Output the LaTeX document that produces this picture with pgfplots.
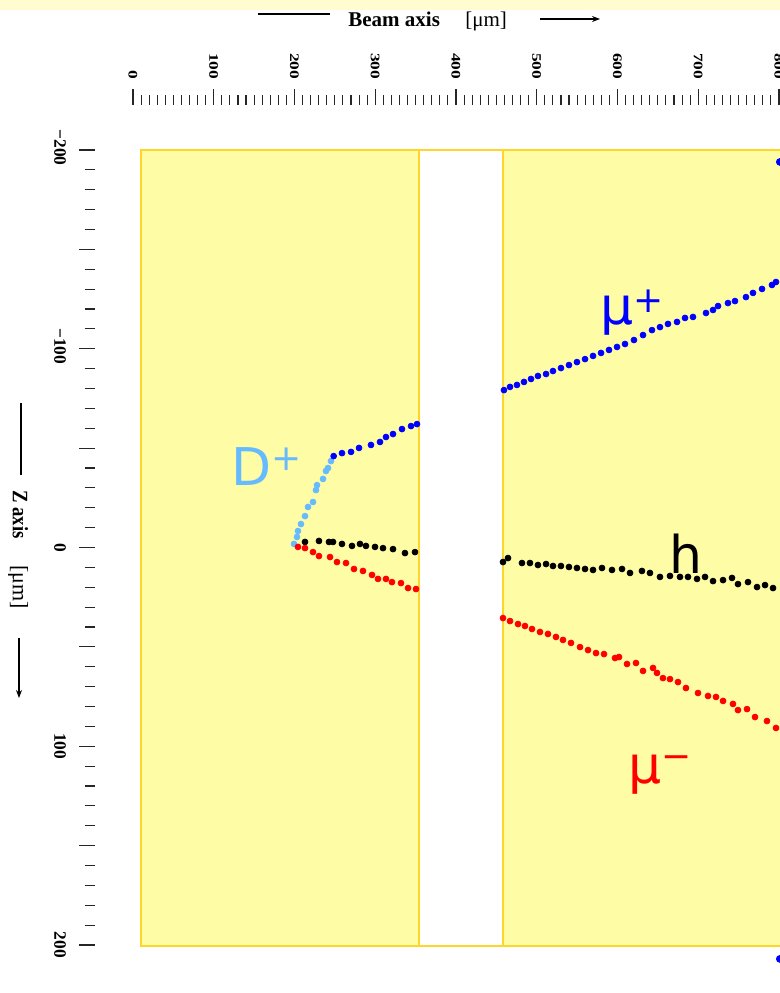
\documentclass[border=0pt]{standalone}
\usepackage{pgfplots}
\pgfplotsset{compat=1.18}
\usepackage{fontspec}
\setmainfont{Liberation Serif}
\newfontfamily\labelfont{DejaVu Sans}
\usetikzlibrary{arrows.meta}

\definecolor{boxfill}{RGB}{255,252,166}
\definecolor{boxedge}{RGB}{255,214,40}
\definecolor{bandfill}{RGB}{255,253,208}
\definecolor{dplus}{RGB}{102,187,255}
\definecolor{muplus}{RGB}{0,0,255}
\definecolor{muminus}{RGB}{255,0,0}

\begin{document}
\begin{tikzpicture}
% page frame (1 unit = 0.5pt, origin of the beam/Z frame at the vertex scale origin)
\path[use as bounding box, clip] (-66.5pt,-222.75pt) rectangle (323.5pt,273.75pt);
\begin{axis}[
  at={(0,0)}, anchor=origin,
  scale only axis,
  x=0.40375pt, y=0.99375pt, y dir=reverse,
  xmin=-47.06, xmax=801.2, ymin=-222.64, ymax=224.15,
  axis line style={draw=none},
  clip=false,
  tick align=outside,
  xtick pos=right, ytick pos=left,
  xtick={0,100,...,800}, minor x tick num=9,
  ytick={-200,-150,...,200}, minor y tick num=4,
  xticklabels={}, yticklabels={},
  major tick length=8pt, minor tick length=5pt,
  tick style={black!85, line width=0.55pt},
  hits/.style={only marks, mark=*, mark size=1.45pt},
]
% silicon planes and the gap between them
\addplot[sharp plot, no marks, fill=boxfill, draw=boxedge, line width=1pt]
  coordinates {(10,-200) (840,-200) (840,200.3) (10,200.3)} -- cycle;
\addplot[sharp plot, no marks, fill=white, draw=boxedge, line width=1pt]
  coordinates {(354,-200) (458,-200) (458,200.3) (354,200.3)} -- cycle;

% D+ flight path
\addplot[hits, color=dplus] coordinates {
(199.4,-1.8) (203.1,-5.3) (204.3,-8.3) (208.0,-11.8) (213.0,-15.8)
(216.7,-20.4) (222.9,-22.9) (226.6,-28.9) (227.9,-31.4) (235.3,-34.5)
(239.0,-38.5) (241.5,-40.0) (245.2,-43.5)};

% mu+ track
\addplot[hits, color=muplus] coordinates {
(248.5,-46.0) (258.8,-47.5) (270.0,-48.1) (279.9,-50.1) (294.7,-51.6)
(305.9,-53.1) (313.3,-55.6) (322.0,-57.1) (333.1,-59.6) (344.3,-61.1)
(351.7,-62.1)
(459.4,-79.2) (466.9,-80.8) (475.5,-81.8) (484.2,-83.3) (492.9,-84.8)
(501.5,-86.3) (511.5,-87.3) (520.1,-88.8) (530.0,-90.3) (539.9,-91.8)
(549.8,-93.3) (559.8,-94.8) (569.7,-96.4) (579.6,-97.9) (589.5,-99.4)
(599.4,-100.9) (609.3,-102.4) (620.4,-104.4) (631.6,-106.9) (642.7,-109.4)
(652.6,-110.9) (662.5,-112.5) (673.7,-113.5) (683.6,-115.5) (693.5,-116.0)
(709.6,-118.0) (718.3,-119.5) (724.5,-121.5) (736.8,-123.0) (745.5,-124.0)
(759.1,-126.0) (767.8,-128.1) (779.0,-130.1) (791.3,-132.1) (796.3,-133.6)};
\addplot[hits, color=muplus, mark size=1.7pt] coordinates {(801,-194) (801,207)};

% hadron track
\addplot[hits, color=black] coordinates {
(213.0,-2.8) (230.3,-3.3) (242.7,-2.8) (247.7,-2.8) (258.8,-1.8)
(271.2,-0.8) (281.1,-1.8) (288.5,-0.8) (299.7,-0.3) (309.6,0.3)
(322.0,0.8) (336.8,2.8) (349.2,2.3)
(458.2,7.3) (464.4,5.3) (481.7,7.8) (491.6,7.8) (501.5,8.8)
(511.5,8.3) (520.1,9.3) (530.0,9.3) (539.9,9.8) (549.8,10.3)
(559.8,10.8) (569.7,11.3) (580.8,10.3) (593.2,11.3) (605.6,10.8)
(615.5,12.8) (630.3,11.8) (640.2,12.8) (652.6,14.8) (665.0,14.3)
(677.4,14.8) (687.3,14.8) (698.5,15.8) (708.4,14.8) (718.3,16.9)
(730.7,16.4) (741.8,15.3) (749.2,18.4) (761.6,17.4) (772.8,19.9)
(782.7,18.9) (792.6,20.4)};

% mu- track
\addplot[hits, color=muminus] coordinates {
(204.3,-0.3) (213.0,0.3) (222.9,2.3) (230.3,4.3) (244.0,4.8)
(252.6,7.3) (263.8,7.8) (273.7,10.8) (284.8,11.8) (296.0,13.8)
(303.4,15.8) (313.3,15.8) (320.7,17.4) (331.9,17.9) (340.6,20.4)
(350.5,20.9)
(458.2,35.5) (466.9,37.0) (476.8,38.5) (485.4,39.5) (494.1,41.0)
(504.0,42.5) (513.9,43.5) (523.8,45.0) (532.5,46.5) (542.4,48.0)
(553.6,50.1) (563.5,51.6) (573.4,53.1) (583.3,53.6) (596.9,55.6)
(601.9,55.1) (611.8,58.6) (622.9,58.1) (631.6,62.1) (644.0,60.6)
(648.9,63.1) (656.3,65.7) (665.0,66.2) (674.9,67.7) (684.8,70.7)
(699.7,73.2) (712.1,74.7) (722.0,75.2) (730.7,77.2) (743.0,78.7)
(749.2,81.8) (760.4,81.3) (770.3,85.3) (785.1,87.3) (796.3,90.8)};

% particle names
\tikzset{plabel/.style={anchor=base west, inner sep=0,
  font=\labelfont\fontsize{26}{26}\selectfont}}
\node[plabel, text=dplus] at (axis cs:121.4,-31.4)
  {D\raisebox{7.5pt}{\fontsize{18}{18}\selectfont +}};
\node[plabel, text=muplus] at (axis cs:578.3,-112.0)
  {μ\raisebox{6pt}{\fontsize{18}{18}\selectfont +}};
\node[plabel, text=black] at (axis cs:663.8,13.3) {h};
\node[plabel, text=muminus] at (axis cs:613.0,118.5)
  {μ\raisebox{7.5pt}{\fontsize{18}{18}\selectfont −}};
\end{axis}

% scale labels and axis titles, placed in the page frame
\begin{scope}[shift={(-66.5pt,273.75pt)}, x=0.5pt, y=-0.5pt]
  \fill[bandfill] (0,0) rectangle (780,10);
  \tikzset{tlab/.style={inner sep=0, font=\bfseries\fontsize{8.7}{9}\selectfont}}
  % beam axis scale
  \foreach \v in {0,100,...,800}
    \node[tlab, rotate=-90, yscale=0.75, anchor=east] at ({133+0.8075*\v},79.5) {\v};
  % Z axis scale
  \node[tlab, rotate=-90, anchor=center] at (60,{545-1.9875*200}) {−200};
  \node[tlab, rotate=-90, anchor=center] at (60,{545-1.9875*100}) {−100};
  \node[tlab, rotate=-90, anchor=center] at (60,547.5) {0};
  \node[tlab, rotate=-90, anchor=center] at (60,{547.5+1.9875*100}) {100};
  \node[tlab, rotate=-90, anchor=center] at (60,{547.5+1.9875*200}) {200};
  % beam axis title
  \draw[line width=0.6pt] (258,14) -- (330,14);
  \node[anchor=base west, inner sep=0, font=\bfseries\fontsize{10.5}{12}\selectfont]
    at (348,26) {Beam axis};
  \node[anchor=base west, inner sep=0, font=\fontsize{10.5}{12}\selectfont]
    at (465,26) {[μm]};
  \draw[line width=0.6pt, -{Stealth[length=4pt,width=3pt]}] (540,19) -- (600,19);
  % Z axis title
  \draw[line width=0.6pt] (21,403) -- (21,475);
  \node[rotate=-90, anchor=base west, inner sep=0, xscale=0.85,
    font=\bfseries\fontsize{11}{12}\selectfont] at (13,490) {Z axis};
  \node[rotate=-90, anchor=base west, inner sep=0,
    font=\fontsize{11}{12}\selectfont] at (13,565) {[μm]};
  \draw[line width=0.6pt, -{Stealth[length=4pt,width=3pt]}] (19,638) -- (19,698);
\end{scope}
\end{tikzpicture}
\end{document}
